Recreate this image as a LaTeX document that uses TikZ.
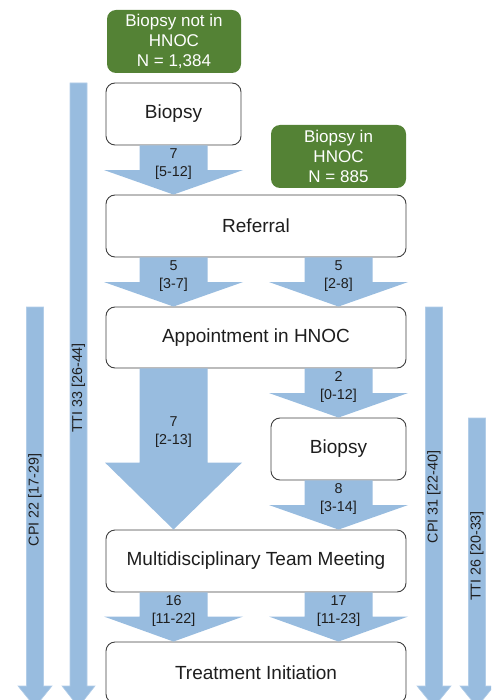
\documentclass[tikz,border=0pt]{standalone}
\usepackage{fontspec}
\setmainfont{Liberation Sans}
\usetikzlibrary{calc}
\definecolor{arrowblue}{RGB}{152,188,223}
\definecolor{arrowedge}{RGB}{178,205,232}
\definecolor{boxgreen}{RGB}{84,130,53}
\definecolor{boxline}{RGB}{64,64,64}
\definecolor{txt}{RGB}{30,30,30}
\tikzset{
  box/.style={draw=boxline, line width=0.9pt, rounded corners=9pt, fill=white,
    font=\fontsize{19}{22}\selectfont, text=txt, inner sep=0pt},
  greenbox/.style={fill=boxgreen, rounded corners=9pt, text=white, align=center,
    font=\fontsize{17}{20}\selectfont, inner sep=0pt},
  lbl/.style={align=center, font=\fontsize{14.3}{18}\selectfont, text=txt, inner sep=0pt},
  vlbl/.style={rotate=90, font=\fontsize{14.3}{16}\selectfont, text=txt, inner sep=0pt},
  arrowfill/.style={fill=arrowblue},
  longarrow/.style={fill=arrowblue, draw=arrowedge, line width=0.6pt},
}
% #1 start, #2 tip, #3 half shaft, #4 half head, #5 head length, #6 style
\newcommand{\blockarrow}[6]{%
  \path[#6] let \p1=(#1), \p2=(#2) in
    (\x1-#3pt,\y1) -- (\x1+#3pt,\y1) -- (\x1+#3pt,\y2+#5pt) -- (\x1+#4pt,\y2+#5pt)
    -- (\x1,\y2) -- (\x1-#4pt,\y2+#5pt) -- (\x1-#3pt,\y2+#5pt) -- cycle;}
\begin{document}
\begin{tikzpicture}[x=1pt,y=-1pt]
\useasboundingbox (0,0) rectangle (491,700);
\clip (0,0) rectangle (491,700);

% long vertical arrows
\coordinate (tti33top) at (78.5,83);
\coordinate (tti33end) at (78.5,707);
\coordinate (cpi22top) at (35,307);
\coordinate (cpi22end) at (35,707);
\coordinate (cpi31top) at (434,307);
\coordinate (cpi31end) at (434,707);
\coordinate (tti26top) at (477,418);
\coordinate (tti26end) at (477,707);
\blockarrow{tti33top}{tti33end}{8.5}{16.5}{21}{longarrow}
\blockarrow{cpi22top}{cpi22end}{8.5}{17}{21}{longarrow}
\blockarrow{cpi31top}{cpi31end}{8.5}{17}{21}{longarrow}
\blockarrow{tti26top}{tti26end}{8.5}{17}{21}{longarrow}
\node[vlbl] (l-tti33) at (78.5,388) {TTI 33 [26-44]};
\node[vlbl] (l-cpi22) at (35,500) {CPI 22 [17-29]};
\node[vlbl] (l-cpi31) at (434,497) {CPI 31 [22-40]};
\node[vlbl] (l-tti26) at (477,556) {TTI 26 [20-33]};

% boxes
\node[greenbox, minimum width=134pt, minimum height=63pt] (g1) at (174,41.5) {Biopsy not in\\HNOC\\N = 1,384};
\node[greenbox, minimum width=135pt, minimum height=63pt] (g2) at (338.5,156.5) {Biopsy in\\HNOC\\N = 885};
\node[box, minimum width=135pt, minimum height=62pt] (bio1) at (173.5,114) {Biopsy};
\node[box, minimum width=300pt, minimum height=62pt] (ref) at (256,226) {Referral};
\node[box, minimum width=300pt, minimum height=61pt] (app) at (256,337.5) {Appointment in HNOC};
\node[box, minimum width=135pt, minimum height=62pt] (bio2) at (338.5,449) {Biopsy};
\node[box, minimum width=300pt, minimum height=62pt] (mdt) at (256,561) {Multidisciplinary Team Meeting};
\node[box, minimum width=300pt, minimum height=61pt] (trt) at (256,672.5) {Treatment Initiation};

% block arrows between boxes
\blockarrow{bio1.south}{ref.north -| bio1.south}{34}{69.5}{24.5}{arrowfill}
\blockarrow{ref.south -| bio1.south}{app.north -| bio1.south}{34}{69.5}{24.5}{arrowfill}
\blockarrow{ref.south -| bio2.north}{app.north -| bio2.north}{34}{69.5}{24.5}{arrowfill}
\blockarrow{app.south -| bio1.south}{mdt.north -| bio1.south}{34}{68.5}{67}{arrowfill}
\blockarrow{app.south -| bio2.north}{bio2.north}{34}{69.5}{24.5}{arrowfill}
\blockarrow{bio2.south}{mdt.north -| bio2.north}{34}{69.5}{24.5}{arrowfill}
\blockarrow{mdt.south -| bio1.south}{trt.north -| bio1.south}{34}{69.5}{25}{arrowfill}
\blockarrow{mdt.south -| bio2.north}{trt.north -| bio2.north}{34}{69.5}{25}{arrowfill}

% arrow labels
\node[lbl] (a1) at ($(bio1.south)+(0,19)$) {7\\{}[5-12]};
\node[lbl] (a2) at ($(ref.south -| bio1.south)+(0,19)$) {5\\{}[3-7]};
\node[lbl] (a3) at ($(ref.south -| bio2.north)+(0,19)$) {5\\{}[2-8]};
\node[lbl] (a4) at ($(app.south -| bio1.south)+(0,64)$) {7\\{}[2-13]};
\node[lbl] (a5) at ($(app.south -| bio2.north)+(0,19)$) {2\\{}[0-12]};
\node[lbl] (a6) at ($(bio2.south)+(0,19)$) {8\\{}[3-14]};
\node[lbl] (a7) at ($(mdt.south -| bio1.south)+(0,19)$) {16\\{}[11-22]};
\node[lbl] (a8) at ($(mdt.south -| bio2.north)+(0,19)$) {17\\{}[11-23]};
\end{tikzpicture}
\end{document}
